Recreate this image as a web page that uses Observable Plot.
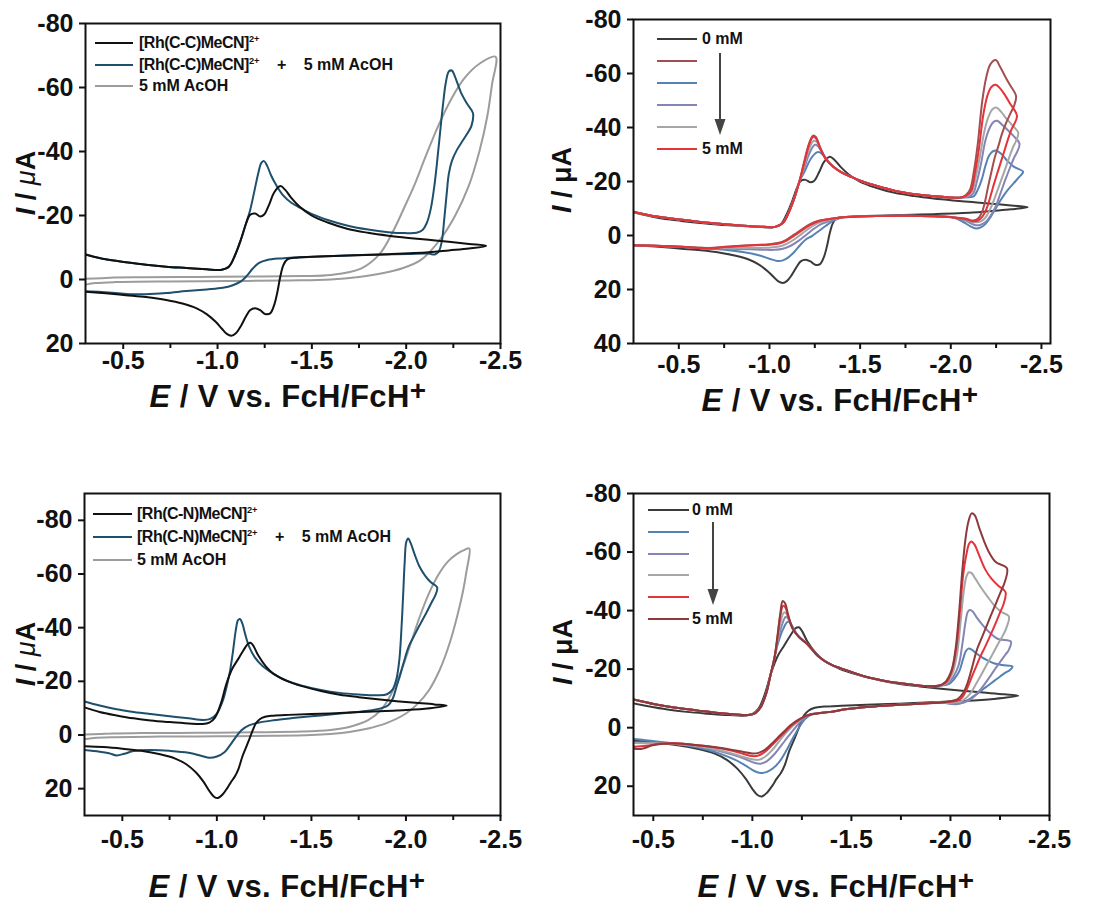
<!DOCTYPE html>
<html><head><meta charset="utf-8">
<script src="https://cdn.jsdelivr.net/npm/d3@7"></script>
<script src="https://cdn.jsdelivr.net/npm/@observablehq/plot@0.6"></script>
<style>
body{margin:0;background:#fff;}
#root{position:relative;width:1102px;height:903px;overflow:hidden;background:#fff;font-family:"Liberation Sans",Arial,sans-serif;font-weight:bold;color:#111;}
.panel{position:absolute;}
.xlab{position:absolute;font-size:31px;letter-spacing:0.4px;white-space:nowrap;transform:translateX(-50%);line-height:1;}
.xlab sup{font-size:0.9em;vertical-align:0.25em;line-height:0;}
.ylab{position:absolute;font-size:27px;white-space:nowrap;transform:translate(-50%,-50%) rotate(-90deg);line-height:1;}
.legrow{position:absolute;height:0;}
.sw{position:absolute;height:0;border-top:2px solid #000;top:-1px;}
.lt{position:absolute;font-size:16px;white-space:nowrap;line-height:1;top:-8px;}
.lt sup{font-size:0.58em;vertical-align:0.6em;line-height:0;}
.cond{letter-spacing:-0.5px;}
.plus{margin:0 13px;}
</style>
</head><body><div id="root"></div>
<script>
// ---------- DATA: [E (V vs FcH/FcH+), I (µA)] ----------
const xMajor = [-0.5, -1.0, -1.5, -2.0, -2.5];
const xMinor = [-0.75, -1.25, -1.75, -2.25];
const yTicksTop1 = [-80, -60, -40, -20, 0, 20];
const yTicksTop2 = [-80, -60, -40, -20, 0, 20, 40];
const yTicksBot = [-80, -60, -40, -20, 0, 20];

// [Rh(C-C)MeCN]2+ (top-left black, top-right 0 mM)
const ccBlack = [[-0.25,-8.6],[-0.30,-7.8],[-0.407,-6.3],[-0.514,-5.4],[-0.621,-4.6],[-0.728,-4.0],[-0.835,-3.6],[-0.942,-3.2],[-1.017,-3.0],[-1.06,-4.0],[-1.092,-7.5],[-1.124,-12.5],[-1.151,-17.5],[-1.172,-20.2],[-1.199,-20.6],[-1.226,-19.7],[-1.247,-20.3],[-1.274,-23.5],[-1.30,-27.2],[-1.333,-29.2],[-1.359,-28.0],[-1.391,-25.5],[-1.434,-22.8],[-1.498,-20.0],[-1.584,-17.8],[-1.691,-15.8],[-1.798,-14.6],[-1.905,-13.7],[-2.012,-13.0],[-2.119,-12.4],[-2.226,-11.8],[-2.333,-11.1],[-2.424,-10.5],
  [-2.333,-9.7],[-2.226,-9.1],[-2.119,-8.5],[-1.905,-7.9],[-1.691,-7.5],[-1.531,-7.2],[-1.424,-6.9],[-1.37,-6.3],[-1.349,-4.5],[-1.333,-1.0],[-1.317,4.0],[-1.30,8.0],[-1.279,10.6],[-1.252,10.8],[-1.226,9.6],[-1.199,9.0],[-1.172,9.6],[-1.151,11.5],[-1.124,14.5],[-1.097,16.8],[-1.073,17.6],[-1.049,17.0],[-1.022,15.3],[-0.99,13.2],[-0.942,10.8],[-0.889,9.0],[-0.814,7.5],[-0.728,6.4],[-0.621,5.5],[-0.514,4.9],[-0.407,4.3],[-0.3,3.8],[-0.25,3.6]];
const ccAcid = [[-0.30,-7.8],[-0.407,-6.3],[-0.514,-5.4],[-0.621,-4.6],[-0.728,-4.0],[-0.835,-3.6],[-0.942,-3.2],[-1.017,-3.0],[-1.06,-4.0],[-1.092,-7.5],[-1.124,-12.5],[-1.151,-17.5],[-1.172,-21.5],[-1.193,-27],[-1.215,-33],[-1.233,-36.5],[-1.247,-37],[-1.263,-35.5],[-1.284,-32.5],[-1.311,-29.5],[-1.349,-26.2],[-1.391,-24],[-1.445,-22.2],[-1.498,-20.5],[-1.584,-18.6],[-1.691,-16.8],[-1.798,-15.6],[-1.905,-14.8],[-1.991,-14.5],[-2.055,-14.6],[-2.087,-15.5],[-2.108,-17.5],[-2.13,-22],[-2.151,-30],[-2.173,-42],[-2.194,-54],[-2.21,-61.5],[-2.226,-65],[-2.242,-65.3],[-2.258,-63.5],[-2.29,-58.5],[-2.322,-55],[-2.354,-52],
  [-2.346,-48],[-2.333,-46.5],[-2.301,-43.5],[-2.269,-40.5],[-2.242,-37],[-2.226,-33],[-2.215,-27],[-2.202,-19],[-2.189,-12],[-2.173,-8.8],[-2.151,-7.8],[-2.119,-8.1],[-2.012,-8.0],[-1.798,-7.7],[-1.584,-7.3],[-1.424,-6.9],[-1.338,-6.6],[-1.263,-6.1],[-1.22,-5.2],[-1.188,-3.5],[-1.156,-1.2],[-1.124,0.6],[-1.081,1.8],[-1.028,2.6],[-0.942,3.1],[-0.835,3.6],[-0.728,4.2],[-0.621,4.6],[-0.535,4.6],[-0.46,4.2],[-0.386,3.9],[-0.3,3.7]];
// 5 mM AcOH alone, top-left panel
const acohTop = [[-0.3,1.6],[-0.354,1.1],[-0.461,0.8],[-0.728,0.6],[-1.049,0.5],[-1.37,0.3],[-1.6,0.0],[-1.75,-0.8],[-1.88,-2.0],[-1.98,-3.5],[-2.08,-6.2],[-2.18,-12.5],[-2.26,-20],[-2.33,-29],[-2.39,-40.5],[-2.43,-51],[-2.455,-61],[-2.474,-69.6],
  [-2.39,-67.5],[-2.31,-63],[-2.24,-56.5],[-2.17,-48],[-2.1,-38],[-2.04,-29],[-1.99,-22.5],[-1.93,-15],[-1.86,-8],[-1.76,-3.4],[-1.6,-1.4],[-1.45,-1.1],[-1.2,-0.9],[-0.9,-0.8],[-0.6,-0.7],[-0.45,-0.6],[-0.38,-0.4],[-0.3,-0.2]];
// 5 mM AcOH alone, bottom-left panel
const acohBot = [[-0.3,1.6],[-0.35,1.1],[-0.45,0.8],[-0.7,0.6],[-1.0,0.5],[-1.3,0.3],[-1.5,0.0],[-1.6,-0.4],[-1.7,-1.1],[-1.8,-2.4],[-1.9,-4.5],[-2.0,-8.0],[-2.06,-11.5],[-2.12,-16.5],[-2.18,-24.5],[-2.23,-34],[-2.27,-44],[-2.3,-53],[-2.32,-61],[-2.335,-69.5],
  [-2.31,-69],[-2.27,-67.5],[-2.22,-64.5],[-2.17,-59.5],[-2.12,-52.5],[-2.07,-43.5],[-2.02,-33],[-1.97,-23],[-1.92,-15],[-1.87,-9.5],[-1.8,-5.5],[-1.7,-3.0],[-1.6,-1.9],[-1.45,-1.3],[-1.2,-1.0],[-0.9,-0.8],[-0.6,-0.7],[-0.45,-0.6],[-0.38,-0.4],[-0.3,-0.2]];

// Top-right: acid titration segments
const p2FwdStart = [[-0.25,-8.8],[-0.357,-7.2],[-0.518,-5.8],[-0.678,-4.6],[-0.839,-3.7],[-0.967,-3.2],[-1.031,-3.2],[-1.074,-4.6],[-1.106,-8.5],[-1.138,-14],[-1.165,-20]];
const p2FwdMid = [[-1.395,-23.5],[-1.448,-21.8],[-1.513,-20],[-1.588,-18.4],[-1.695,-16.5],[-1.802,-15.3],[-1.909,-14.5],[-1.994,-14.1],[-2.048,-14.0]];
const p2RevMid = [[-2.016,-6.7],[-1.909,-7.1],[-1.748,-7.3],[-1.588,-7.2],[-1.481,-7.0],[-1.395,-6.7]];
const p2BrownPeak = [[-1.192,-27.5],[-1.218,-34],[-1.24,-37],[-1.256,-36.5],[-1.277,-33],[-1.309,-28.5],[-1.352,-25.5]];
const p2RedPeak = [[-1.192,-27],[-1.218,-33.5],[-1.24,-36.5],[-1.256,-36],[-1.277,-32.8],[-1.309,-28.5],[-1.352,-25.5]];
const p2GrayPeak = [[-1.192,-26],[-1.218,-32],[-1.243,-35],[-1.261,-34.6],[-1.283,-32],[-1.315,-28.2],[-1.352,-25.5]];
const p2PurplePeak = [[-1.192,-25],[-1.224,-31],[-1.25,-33.6],[-1.266,-33.2],[-1.288,-31],[-1.32,-27.8],[-1.352,-25.5]];
const p2BluePeak = [[-1.192,-23.5],[-1.229,-28.5],[-1.261,-30.8],[-1.277,-30.8],[-1.299,-29.5],[-1.325,-27.2],[-1.352,-25.5]];
const p2BrownHigh = [[-2.08,-14.8],[-2.106,-17],[-2.128,-24],[-2.149,-34],[-2.174,-50],[-2.197,-59],[-2.219,-63.5],[-2.248,-65],[-2.272,-62.5],[-2.299,-59],[-2.326,-55.8],[-2.36,-51.6],[-2.349,-48],[-2.331,-45.5],[-2.304,-41.5],[-2.283,-37.8],[-2.262,-33],[-2.243,-29],[-2.224,-23.5],[-2.204,-17.5],[-2.187,-12],[-2.171,-8.5],[-2.149,-6.2],[-2.123,-5.6],[-2.09,-6.0]];
const p2RedHigh = [[-2.085,-14.7],[-2.112,-16.5],[-2.133,-23],[-2.155,-32],[-2.18,-45],[-2.203,-52],[-2.224,-55],[-2.248,-55.8],[-2.272,-54.5],[-2.299,-52],[-2.326,-49],[-2.365,-44.4],[-2.352,-41.5],[-2.336,-39.5],[-2.315,-35.5],[-2.294,-31],[-2.262,-24.2],[-2.24,-19.5],[-2.223,-15.5],[-2.203,-11],[-2.187,-8.3],[-2.165,-6.3],[-2.139,-5.3],[-2.112,-5.4],[-2.085,-6.2]];
const p2GrayHigh = [[-2.09,-14.6],[-2.117,-16.3],[-2.139,-22],[-2.16,-29],[-2.185,-38.5],[-2.208,-44],[-2.23,-46.8],[-2.251,-47.4],[-2.278,-45.8],[-2.304,-43.5],[-2.337,-41],[-2.372,-38],[-2.36,-35],[-2.342,-32.5],[-2.32,-28.5],[-2.294,-23.5],[-2.267,-18.5],[-2.24,-13.5],[-2.219,-10],[-2.197,-7.2],[-2.171,-5.4],[-2.144,-4.9],[-2.117,-5.0],[-2.085,-6.0]];
const p2PurpleHigh = [[-2.096,-14.5],[-2.123,-15.5],[-2.144,-20],[-2.165,-26],[-2.192,-35.5],[-2.219,-40.5],[-2.238,-42.2],[-2.256,-42.5],[-2.283,-41],[-2.315,-39],[-2.347,-36.8],[-2.379,-34],[-2.366,-31],[-2.349,-28.8],[-2.326,-25],[-2.299,-20.3],[-2.272,-15.2],[-2.246,-10.5],[-2.219,-7.3],[-2.192,-5.0],[-2.165,-4.0],[-2.139,-3.8],[-2.112,-4.4],[-2.08,-5.6]];
const p2BlueHigh = [[-2.101,-14.2],[-2.128,-14.6],[-2.149,-17],[-2.171,-20.8],[-2.192,-26],[-2.213,-29.8],[-2.235,-31.3],[-2.251,-31.4],[-2.278,-30.3],[-2.31,-27.8],[-2.347,-25.5],[-2.399,-23.6],[-2.379,-21.8],[-2.358,-20.2],[-2.331,-18.2],[-2.304,-16],[-2.272,-12.8],[-2.246,-9.8],[-2.219,-6.8],[-2.192,-4.3],[-2.165,-3.0],[-2.139,-2.6],[-2.106,-3.5],[-2.069,-5.0]];
const p2BrownLow = [[-1.32,-6.0],[-1.267,-5.4],[-1.224,-4.2],[-1.181,-2.4],[-1.138,-0.4],[-1.095,1.5],[-1.053,2.7],[-0.999,3.2],[-0.924,3.5],[-0.839,3.8],[-0.753,4.2],[-0.667,4.6],[-0.603,4.5],[-0.518,4.2],[-0.41,3.9],[-0.304,3.7],[-0.25,3.6]];
const p2RedLow = [[-1.32,-6.0],[-1.267,-5.2],[-1.224,-3.8],[-1.181,-2.0],[-1.138,0.0],[-1.095,1.9],[-1.053,3.0],[-0.999,3.4],[-0.924,3.6],[-0.839,3.9],[-0.753,4.3],[-0.667,4.8],[-0.603,4.6],[-0.518,4.2],[-0.41,3.9],[-0.304,3.7],[-0.25,3.6]];
const p2GrayLow = [[-1.32,-5.6],[-1.267,-4.6],[-1.224,-2.9],[-1.181,-0.8],[-1.138,1.4],[-1.095,3.1],[-1.053,4.1],[-0.999,4.5],[-0.924,4.6],[-0.839,4.6],[-0.732,4.6],[-0.625,4.5],[-0.518,4.2],[-0.41,3.9],[-0.304,3.7],[-0.25,3.6]];
const p2PurpleLow = [[-1.331,-5.3],[-1.288,-4.3],[-1.245,-2.5],[-1.202,-0.2],[-1.16,2.0],[-1.117,3.8],[-1.074,4.9],[-1.031,5.3],[-0.967,5.3],[-0.892,5.1],[-0.785,4.9],[-0.678,4.7],[-0.571,4.4],[-0.464,4.1],[-0.357,3.8],[-0.25,3.6]];
const p2BlueLow = [[-1.341,-5.0],[-1.309,-3.5],[-1.267,-1.4],[-1.234,0.2],[-1.202,1.4],[-1.17,3.5],[-1.138,6.0],[-1.106,8.0],[-1.074,9.2],[-1.042,9.4],[-0.999,8.6],[-0.946,7.4],[-0.86,6.2],[-0.753,5.3],[-0.646,4.8],[-0.518,4.3],[-0.389,3.9],[-0.25,3.6]];

// [Rh(C-N)MeCN]2+ bottom-left
const cnBlack = [[-0.3,-10.3],[-0.38,-8.6],[-0.47,-7.3],[-0.56,-6.2],[-0.65,-5.4],[-0.75,-4.8],[-0.85,-4.3],[-0.92,-4.1],[-0.96,-4.6],[-0.99,-6.5],[-1.02,-11.5],[-1.05,-19],[-1.08,-24.5],[-1.11,-28],[-1.14,-31.5],[-1.165,-34],[-1.18,-34.3],[-1.195,-33],[-1.22,-29.5],[-1.26,-25.5],[-1.3,-22.8],[-1.37,-20.2],[-1.45,-18.2],[-1.55,-16.4],[-1.65,-15],[-1.75,-14.1],[-1.85,-13.3],[-1.95,-12.6],[-2.05,-12],[-2.15,-11.4],[-2.215,-10.9],
  [-2.1,-9.8],[-1.95,-9.1],[-1.8,-8.7],[-1.65,-8.2],[-1.5,-7.8],[-1.38,-7.5],[-1.3,-7.2],[-1.255,-6.8],[-1.225,-5.8],[-1.205,-4.2],[-1.19,-1.8],[-1.172,1.5],[-1.155,4.5],[-1.135,8],[-1.115,12.5],[-1.095,15.5],[-1.075,17.5],[-1.055,19.8],[-1.03,22.2],[-1.005,23.5],[-0.985,23.0],[-0.96,20.8],[-0.93,17.5],[-0.89,14],[-0.84,11],[-0.78,8.8],[-0.7,7.2],[-0.6,5.9],[-0.5,5.1],[-0.4,4.5],[-0.3,4.2]];
const cnAcid = [[-0.3,-12.5],[-0.38,-11],[-0.47,-9.6],[-0.56,-8.6],[-0.65,-7.8],[-0.75,-7.0],[-0.85,-6.2],[-0.93,-5.6],[-0.965,-6.0],[-1.0,-8],[-1.03,-12.5],[-1.055,-19],[-1.07,-24],[-1.085,-31],[-1.1,-39],[-1.112,-42.8],[-1.122,-43.2],[-1.135,-41.5],[-1.15,-37.5],[-1.17,-33],[-1.2,-29],[-1.24,-25.8],[-1.3,-22.8],[-1.37,-20.2],[-1.45,-18.4],[-1.55,-16.8],[-1.65,-15.7],[-1.75,-15.1],[-1.85,-14.8],[-1.9,-15.2],[-1.93,-17],[-1.95,-21],[-1.965,-28],[-1.975,-38],[-1.985,-52],[-1.993,-64],[-2.002,-72],[-2.012,-73.2],[-2.025,-71.5],[-2.045,-67.5],[-2.07,-63],[-2.1,-59.5],[-2.13,-57],[-2.165,-55],
  [-2.155,-52],[-2.14,-50],[-2.115,-46.5],[-2.09,-43.2],[-2.065,-40],[-2.04,-36.5],[-2.015,-33],[-1.99,-27.5],[-1.97,-22.5],[-1.95,-18],[-1.93,-13.5],[-1.905,-11],[-1.87,-10],[-1.8,-9.0],[-1.7,-8.3],[-1.6,-7.6],[-1.5,-7.0],[-1.4,-6.3],[-1.3,-5.5],[-1.22,-4.6],[-1.17,-3.6],[-1.13,-1.8],[-1.1,0.8],[-1.07,3.8],[-1.04,6.4],[-1.0,8.0],[-0.96,8.5],[-0.92,7.8],[-0.85,6.6],[-0.75,5.9],[-0.65,5.6],[-0.56,6.0],[-0.51,7.0],[-0.47,7.6],[-0.43,6.8],[-0.38,6.2],[-0.3,5.6]];

// Bottom-right: 0 mM and acid titration segments
const p4Black = [[-0.379,-8.6],[-0.475,-7.3],[-0.571,-6.2],[-0.668,-5.4],[-0.775,-4.8],[-0.882,-4.3],[-0.956,-4.1],[-0.999,-4.6],[-1.031,-6.5],[-1.063,-11.5],[-1.096,-19],[-1.128,-24.5],[-1.16,-28],[-1.192,-31.5],[-1.219,-34],[-1.235,-34.3],[-1.251,-33],[-1.277,-29.5],[-1.32,-25.5],[-1.363,-22.8],[-1.438,-20.2],[-1.524,-18.2],[-1.631,-16.4],[-1.738,-15],[-1.845,-14.1],[-1.952,-13.3],[-2.059,-12.6],[-2.166,-12],[-2.273,-11.4],[-2.342,-10.9],
  [-2.219,-9.8],[-2.059,-9.1],[-1.898,-8.7],[-1.738,-8.2],[-1.577,-7.8],[-1.449,-7.5],[-1.363,-7.2],[-1.315,-6.8],[-1.283,-5.8],[-1.261,-4.2],[-1.245,-1.8],[-1.226,1.5],[-1.208,4.5],[-1.186,8],[-1.165,12.5],[-1.144,15.5],[-1.122,17.5],[-1.101,19.8],[-1.074,22.2],[-1.047,23.5],[-1.026,23.0],[-0.999,20.8],[-0.967,17.5],[-0.924,14],[-0.871,11],[-0.807,8.8],[-0.721,7.2],[-0.614,5.9],[-0.507,5.1],[-0.4,4.5],[-0.35,4.3]];
const p4FwdStart = [[-0.4,-9.6],[-0.507,-8.0],[-0.614,-6.8],[-0.721,-5.9],[-0.828,-5.0],[-0.914,-4.5],[-0.978,-4.3],[-1.015,-5.0],[-1.042,-7.0],[-1.069,-11.5],[-1.09,-17.5],[-1.112,-24]];
const p4FwdMid = [[-1.331,-24.5],[-1.395,-21.6],[-1.481,-19.5],[-1.577,-17.3],[-1.684,-15.8],[-1.791,-14.8],[-1.877,-14.2],[-1.941,-14.3]];
const p4RevMid = [[-1.952,-8.6],[-1.845,-8.2],[-1.684,-7.6],[-1.577,-7.1],[-1.47,-6.3],[-1.395,-5.4],[-1.331,-4.9]];
const p4BrownPeak = [[-1.128,-32],[-1.142,-39.5],[-1.153,-43.3],[-1.165,-42.5],[-1.181,-38.5],[-1.203,-34],[-1.235,-31],[-1.277,-28.6]];
const p4RedPeak = [[-1.128,-31.5],[-1.142,-38.5],[-1.155,-41.6],[-1.167,-41],[-1.183,-37.5],[-1.203,-33.8],[-1.235,-31],[-1.277,-28.6]];
const p4GrayPeak = [[-1.128,-30.5],[-1.144,-36.5],[-1.16,-39.4],[-1.173,-38.8],[-1.189,-36],[-1.208,-33.2],[-1.235,-31],[-1.277,-28.6]];
const p4PurplePeak = [[-1.128,-29.5],[-1.149,-35],[-1.168,-37.8],[-1.181,-37.3],[-1.197,-35],[-1.213,-33],[-1.24,-30.8],[-1.277,-28.6]];
const p4BluePeak = [[-1.128,-28.5],[-1.154,-33.5],[-1.178,-36.2],[-1.192,-35.8],[-1.208,-33.8],[-1.224,-32],[-1.245,-30.3],[-1.277,-28.6]];
const p4BrownHigh = [[-1.973,-15.5],[-2.005,-19.5],[-2.026,-27],[-2.042,-38],[-2.059,-53],[-2.075,-64],[-2.091,-70.5],[-2.107,-73.2],[-2.123,-72.5],[-2.144,-68.5],[-2.171,-63.5],[-2.198,-59.5],[-2.23,-56.5],[-2.285,-54.5],[-2.273,-49.5],[-2.251,-46],[-2.23,-42.5],[-2.208,-39],[-2.187,-35.5],[-2.16,-31],[-2.133,-26.5],[-2.107,-20],[-2.085,-15],[-2.064,-11.8],[-2.037,-9.8],[-2.005,-9.1]];
const p4RedHigh = [[-1.978,-15.5],[-2.005,-19],[-2.029,-27],[-2.048,-40],[-2.064,-52],[-2.08,-59],[-2.094,-62.8],[-2.105,-63.6],[-2.121,-62.6],[-2.144,-59],[-2.176,-54],[-2.208,-50.8],[-2.24,-48.6],[-2.278,-46.3],[-2.267,-42],[-2.251,-39.5],[-2.23,-36],[-2.203,-31.8],[-2.176,-27.8],[-2.149,-24],[-2.123,-19.8],[-2.101,-16.2],[-2.08,-12.8],[-2.059,-10.3],[-2.032,-9.2],[-2.005,-8.9]];
const p4GrayHigh = [[-1.984,-15.4],[-2.01,-18.5],[-2.033,-25],[-2.051,-36],[-2.066,-46],[-2.08,-51.5],[-2.093,-53.1],[-2.107,-52.8],[-2.125,-51],[-2.155,-47.8],[-2.187,-44.8],[-2.222,-41.7],[-2.256,-39.6],[-2.295,-38],[-2.283,-34.2],[-2.267,-31.8],[-2.24,-28.6],[-2.214,-25.3],[-2.187,-22],[-2.155,-18],[-2.128,-14.8],[-2.106,-12.2],[-2.08,-10.2],[-2.053,-9.0],[-2.005,-8.5]];
const p4PurpleHigh = [[-1.989,-15.2],[-2.016,-17.5],[-2.042,-21.5],[-2.061,-29],[-2.077,-36.5],[-2.088,-39.6],[-2.099,-40.2],[-2.112,-39.7],[-2.133,-37.6],[-2.166,-34.8],[-2.198,-32.5],[-2.24,-30.3],[-2.305,-29.4],[-2.294,-26.5],[-2.278,-25],[-2.251,-22.5],[-2.23,-20.5],[-2.203,-17.8],[-2.176,-15.2],[-2.149,-12.8],[-2.123,-10.9],[-2.096,-9.4],[-2.064,-8.5],[-2.026,-8.2]];
const p4BlueHigh = [[-1.994,-15],[-2.021,-16.8],[-2.045,-19.3],[-2.064,-23.5],[-2.078,-26.2],[-2.091,-27],[-2.107,-26.7],[-2.128,-25.5],[-2.155,-24.2],[-2.187,-23],[-2.219,-22],[-2.262,-21.4],[-2.313,-20.9],[-2.299,-19.6],[-2.278,-18.8],[-2.251,-17.5],[-2.219,-15.9],[-2.192,-14.5],[-2.166,-13.2],[-2.139,-11.8],[-2.112,-10.5],[-2.085,-9.3],[-2.059,-8.5],[-2.026,-8.0]];
const p4BrownLow = [[-1.277,-4.2],[-1.235,-2.8],[-1.192,-0.8],[-1.16,1.3],[-1.128,3.4],[-1.096,5.6],[-1.063,7.6],[-1.031,8.6],[-0.999,8.8],[-0.956,8.3],[-0.892,7.5],[-0.807,6.6],[-0.7,5.8],[-0.614,5.4],[-0.55,5.5],[-0.496,6.0],[-0.454,7.0],[-0.421,7.3],[-0.4,7.0]];
const p4RedLow = [[-1.277,-4.2],[-1.235,-2.6],[-1.192,-0.4],[-1.16,1.8],[-1.128,4.0],[-1.096,6.2],[-1.063,8.3],[-1.031,9.5],[-0.999,9.7],[-0.956,9.0],[-0.892,7.8],[-0.807,6.7],[-0.7,5.8],[-0.614,5.3],[-0.528,5.5],[-0.464,6.2],[-0.4,6.5]];
const p4GrayLow = [[-1.288,-4.4],[-1.256,-3.4],[-1.213,-1.2],[-1.17,1.8],[-1.138,4.4],[-1.101,7.6],[-1.063,10],[-1.031,11.0],[-0.999,10.8],[-0.956,10],[-0.892,8.7],[-0.807,7.3],[-0.7,6.1],[-0.593,5.5],[-0.507,5.3],[-0.4,5.2]];
const p4PurpleLow = [[-1.288,-4.5],[-1.256,-3.0],[-1.219,-0.2],[-1.181,3.0],[-1.149,5.8],[-1.112,9],[-1.074,11.4],[-1.042,12.3],[-1.01,12.0],[-0.967,10.8],[-0.903,9.3],[-0.828,7.9],[-0.721,6.4],[-0.614,5.6],[-0.507,5.2],[-0.4,5.1]];
const p4BlueLow = [[-1.299,-4.6],[-1.267,-3.0],[-1.235,0.0],[-1.203,3.8],[-1.17,8.0],[-1.138,11.5],[-1.106,13.8],[-1.074,15.1],[-1.042,15.5],[-1.01,14.8],[-0.967,13.0],[-0.914,11.0],[-0.828,8.7],[-0.721,6.7],[-0.614,5.5],[-0.507,4.6],[-0.4,3.9]];

// Legend texts and colours
const leg1Text = ["<span class='cond'>[Rh(C-C)MeCN]</span><sup>2+</sup>", "<span class='cond'>[Rh(C-C)MeCN]</span><sup>2+</sup> <span class='plus'>+</span> 5 mM AcOH", "5 mM AcOH"];
const leg3Text = ["<span class='cond'>[Rh(C-N)MeCN]</span><sup>2+</sup>", "<span class='cond'>[Rh(C-N)MeCN]</span><sup>2+</sup> <span class='plus'>+</span> 5 mM AcOH", "5 mM AcOH"];
const legTitr = ["0 mM", "", "", "", "", "5 mM"];
const cBlack = "#111111", cTeal = "#1e4f6c", cGrayA = "#9c9c9c";
const c0 = "#3a3a3a", cBrown = "#a34f50", cBrown4 = "#8e3a3c", cBlue = "#5682b4", cPurple = "#8585b5", cGray = "#a6a6a6", cRed = "#e5333a";

// ---------- assemble curves ----------
const p2 = {
  brown: [...p2FwdStart, ...p2BrownPeak, ...p2FwdMid, ...p2BrownHigh, ...p2RevMid, ...p2BrownLow],
  red: [...p2FwdStart, ...p2RedPeak, ...p2FwdMid, ...p2RedHigh, ...p2RevMid, ...p2RedLow],
  gray: [...p2FwdStart, ...p2GrayPeak, ...p2FwdMid, ...p2GrayHigh, ...p2RevMid, ...p2GrayLow],
  purple: [...p2FwdStart, ...p2PurplePeak, ...p2FwdMid, ...p2PurpleHigh, ...p2RevMid, ...p2PurpleLow],
  blue: [...p2FwdStart, ...p2BluePeak, ...p2FwdMid, ...p2BlueHigh, ...p2RevMid, ...p2BlueLow]
};
const p4 = {
  brown: [...p4FwdStart, ...p4BrownPeak, ...p4FwdMid, ...p4BrownHigh, ...p4RevMid, ...p4BrownLow],
  red: [...p4FwdStart, ...p4RedPeak, ...p4FwdMid, ...p4RedHigh, ...p4RevMid, ...p4RedLow],
  gray: [...p4FwdStart, ...p4GrayPeak, ...p4FwdMid, ...p4GrayHigh, ...p4RevMid, ...p4GrayLow],
  purple: [...p4FwdStart, ...p4PurplePeak, ...p4FwdMid, ...p4PurpleHigh, ...p4RevMid, ...p4PurpleLow],
  blue: [...p4FwdStart, ...p4BluePeak, ...p4FwdMid, ...p4BlueHigh, ...p4RevMid, ...p4BlueLow]
};

const root = document.getElementById("root");

function makePanel(cfg) {
  const lines = cfg.series.map(s => Plot.line(s.data, {x: d => d[0], y: d => d[1], stroke: s.color, strokeWidth: 2, curve: "catmull-rom", clip: true}));
  const svg = Plot.plot({
    width: cfg.width, height: cfg.height,
    marginLeft: cfg.m[0], marginRight: cfg.m[1], marginTop: cfg.m[2], marginBottom: cfg.m[3],
    x: {domain: cfg.xDomain, label: null},
    y: {domain: cfg.yDomain, label: null},
    style: {fontFamily: "'Liberation Sans', Arial, sans-serif", fontWeight: "bold", fontSize: "25px", color: "#111", background: "transparent", overflow: "visible"},
    marks: [
      ...lines,
      Plot.frame({stroke: "#111", strokeWidth: 2}),
      Plot.axisX(xMajor, {tickSize: 6, tickPadding: cfg.xPad, strokeWidth: 2, fontSize: 25, fontWeight: "bold", tickFormat: d => d.toFixed(1), label: null}),
      Plot.axisX(xMinor, {tickSize: 5, strokeWidth: 2, tickFormat: () => "", label: null}),
      Plot.axisY(cfg.yTicks, {tickSize: 6, tickPadding: 6, strokeWidth: 2, fontSize: 25, fontWeight: "bold", tickFormat: d => String(d), label: null})
    ]
  });
  const wrap = document.createElement("div");
  wrap.className = "panel";
  wrap.style.left = cfg.left + "px"; wrap.style.top = cfg.top + "px";
  wrap.appendChild(svg);
  root.appendChild(wrap);
}

function xLabel(cx, top) {
  const d = document.createElement("div");
  d.className = "xlab"; d.style.left = cx + "px"; d.style.top = top + "px";
  d.innerHTML = "<i>E</i> / V vs. FcH/FcH<sup>+</sup>";
  root.appendChild(d);
}
function yLabel(cx, cy, italicMu) {
  const d = document.createElement("div");
  d.className = "ylab"; d.style.left = cx + "px"; d.style.top = cy + "px";
  d.innerHTML = italicMu ? "<i>I</i> / <span style='font-style:italic;font-weight:normal'>μ</span>A" : "<i>I</i> / μA";
  root.appendChild(d);
}
function legend(items, x0, x1, tx, y0, dy) {
  items.forEach((it, i) => {
    const r = document.createElement("div");
    r.className = "legrow"; r.style.left = "0px"; r.style.top = (y0 + i * dy) + "px";
    const s = document.createElement("div");
    s.className = "sw"; s.style.left = x0 + "px"; s.style.width = (x1 - x0) + "px"; s.style.borderTopColor = it.color;
    r.appendChild(s);
    if (it.text) {
      const t = document.createElement("div");
      t.className = "lt"; t.style.left = tx + "px"; t.innerHTML = it.text;
      r.appendChild(t);
    }
    root.appendChild(r);
  });
}
function arrow(x, y1, y2) {
  const ns = "http://www.w3.org/2000/svg";
  const s = document.createElementNS(ns, "svg");
  s.setAttribute("width", 20); s.setAttribute("height", y2 - y1 + 2);
  s.style.position = "absolute"; s.style.left = (x - 10) + "px"; s.style.top = y1 + "px";
  const l = document.createElementNS(ns, "line");
  l.setAttribute("x1", 10); l.setAttribute("x2", 10); l.setAttribute("y1", 0); l.setAttribute("y2", y2 - y1 - 12);
  l.setAttribute("stroke", "#444"); l.setAttribute("stroke-width", 2);
  const p = document.createElementNS(ns, "polygon");
  p.setAttribute("points", `4.5,${y2 - y1 - 16} 15.5,${y2 - y1 - 16} 10,${y2 - y1}`);
  p.setAttribute("fill", "#444");
  s.appendChild(l); s.appendChild(p);
  root.appendChild(s);
}

// Top-left
makePanel({left: 0, top: 0, width: 550, height: 450, m: [85, 50, 23, 107], xDomain: [-0.3, -2.5], yDomain: [20, -80], yTicks: yTicksTop1, xPad: 2,
  series: [{data: acohTop, color: cGrayA}, {data: ccAcid, color: cTeal}, {data: ccBlack, color: cBlack}]});
// Top-right
makePanel({left: 550, top: 0, width: 552, height: 450, m: [83, 52, 19, 107], xDomain: [-0.25, -2.55], yDomain: [40, -80], yTicks: yTicksTop2, xPad: 6,
  series: [{data: ccBlack, color: c0}, {data: p2.blue, color: cBlue}, {data: p2.purple, color: cPurple}, {data: p2.gray, color: cGray}, {data: p2.brown, color: cBrown}, {data: p2.red, color: cRed}]});
// Bottom-left
makePanel({left: 0, top: 450, width: 550, height: 453, m: [84, 50, 43, 88], xDomain: [-0.3, -2.5], yDomain: [30, -90], yTicks: yTicksBot, xPad: 9,
  series: [{data: acohBot, color: cGrayA}, {data: cnAcid, color: cTeal}, {data: cnBlack, color: cBlack}]});
// Bottom-right
makePanel({left: 550, top: 450, width: 552, height: 453, m: [83, 53, 43, 88], xDomain: [-0.4, -2.5], yDomain: [30, -80], yTicks: yTicksBot, xPad: 9,
  series: [{data: p4Black, color: c0}, {data: p4.blue, color: cBlue}, {data: p4.purple, color: cPurple}, {data: p4.gray, color: cGray}, {data: p4.red, color: cRed}, {data: p4.brown, color: cBrown4}]});

xLabel(288, 381); xLabel(840, 385); xLabel(287, 871); xLabel(836, 871);
yLabel(26, 183, true); yLabel(562, 180, false); yLabel(26, 654, true); yLabel(563, 652, false);

legend(leg1Text.map((t, i) => ({text: t, color: [cBlack, cTeal, cGrayA][i]})), 95, 133, 139, 43, 21.5);
legend(leg3Text.map((t, i) => ({text: t, color: [cBlack, cTeal, cGrayA][i]})), 93, 132, 137, 514, 23);
legend(legTitr.map((t, i) => ({text: t, color: [c0, cBrown, cBlue, cPurple, cGray, cRed][i]})), 657, 697, 702, 39, 22);
legend(legTitr.map((t, i) => ({text: t, color: [c0, cBlue, cPurple, cGray, cRed, cBrown4][i]})), 648, 689, 692, 510, 21.8);
arrow(720, 53, 135);
arrow(713, 522, 605);
</script></body></html>
